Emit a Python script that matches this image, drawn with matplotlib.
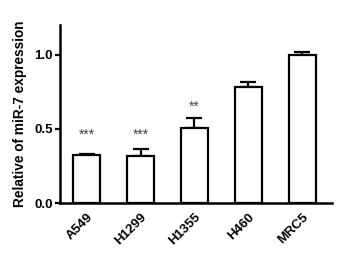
import numpy as np
import matplotlib
matplotlib.use('Agg')
from matplotlib import pyplot as plt
from matplotlib.transforms import ScaledTranslation

plt.rcParams['font.family'] = ['Liberation Sans', 'DejaVu Sans']

cells = ['A549', 'H1299', 'H1355', 'H460', 'MRC5']
expr = [0.325, 0.32, 0.505, 0.78, 1.0]
err = [0.008, 0.045, 0.07, 0.035, 0.02]
stars = ['***', '***', '**', '', '']
star_y = [0.46, 0.46, 0.65, 0, 0]

fig = plt.figure(figsize=(3.4, 2.56), dpi=100)
ax = fig.add_axes([0.176, 0.207, 0.8, 0.695])

x = np.arange(len(cells))
ax.bar(x, expr, width=0.5, color='white', edgecolor='black', linewidth=1.6, zorder=2)
ax.errorbar(x, expr, yerr=[np.zeros(len(err)), err], fmt='none', ecolor='black',
            elinewidth=1.6, capsize=6, capthick=1.6, zorder=1)

for i in range(len(cells)):
    if stars[i]:
        ax.text(x[i], star_y[i], stars[i], ha='center', va='center', fontsize=10, color='#444444')

ax.set_xlim(-0.5, 4.55)
ax.set_ylim(0, 1.2)
ax.set_yticks([0, 0.5, 1.0])
ax.set_yticklabels(['0.0', '0.5', '1.0'], fontsize=9.5, fontweight='bold')
ax.set_xticks(x)
ax.set_xticklabels(cells, rotation=45, ha='right', rotation_mode='anchor',
                   fontsize=9.5, fontweight='bold')
# nudge rotated labels a bit to the right like the original
shift = ScaledTranslation(4 / 72, 0, fig.dpi_scale_trans)
for lbl in ax.get_xticklabels():
    lbl.set_transform(lbl.get_transform() + shift)
ax.tick_params(axis='x', length=0, pad=6)
ax.tick_params(axis='y', length=3.5, width=1.6, pad=1.5)
ax.set_ylabel('Relative of miR-7 expression', fontsize=9.8, fontweight='bold', labelpad=5)

for s in ['top', 'right']:
    ax.spines[s].set_visible(False)
for s in ['left', 'bottom']:
    ax.spines[s].set_linewidth(1.8)

fig.savefig('out.png', dpi=100)
